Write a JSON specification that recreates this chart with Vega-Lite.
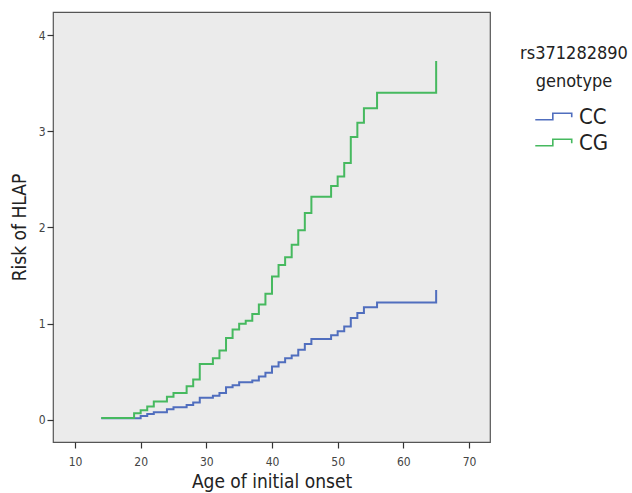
{
  "$schema": "https://vega.github.io/schema/vega-lite/v6.json",
  "autosize": "none",
  "width": 437,
  "height": 430,
  "padding": {"left": 53, "top": 12, "right": 142, "bottom": 51},
  "background": "white",
  "config": {
    "font": "DejaVu Sans Condensed",
    "view": {"fill": "#ebebeb", "stroke": "#555555", "strokeWidth": 1.2},
    "axis": {"grid": false, "domain": false, "tickColor": "#333333", "tickSize": 6, "tickWidth": 1.2,
      "labelFont": "DejaVu Sans Condensed", "labelColor": "#444444", "labelFontSize": 12,
      "titleFont": "DejaVu Sans Condensed", "titleFontWeight": "normal", "titleColor": "#222222", "titleFontSize": 19}
  },
  "data": {"values": [
    {"genotype": "CC", "age": 14, "risk": 0.018},
    {"genotype": "CC", "age": 20, "risk": 0.04},
    {"genotype": "CC", "age": 21, "risk": 0.06},
    {"genotype": "CC", "age": 22, "risk": 0.08},
    {"genotype": "CC", "age": 24, "risk": 0.11},
    {"genotype": "CC", "age": 25, "risk": 0.13},
    {"genotype": "CC", "age": 27, "risk": 0.155},
    {"genotype": "CC", "age": 28, "risk": 0.18},
    {"genotype": "CC", "age": 29, "risk": 0.23},
    {"genotype": "CC", "age": 31, "risk": 0.25},
    {"genotype": "CC", "age": 32, "risk": 0.28},
    {"genotype": "CC", "age": 33, "risk": 0.34},
    {"genotype": "CC", "age": 34, "risk": 0.36},
    {"genotype": "CC", "age": 35, "risk": 0.39},
    {"genotype": "CC", "age": 37, "risk": 0.41},
    {"genotype": "CC", "age": 38, "risk": 0.45},
    {"genotype": "CC", "age": 39, "risk": 0.49},
    {"genotype": "CC", "age": 40, "risk": 0.555},
    {"genotype": "CC", "age": 41, "risk": 0.6},
    {"genotype": "CC", "age": 42, "risk": 0.64},
    {"genotype": "CC", "age": 43, "risk": 0.67},
    {"genotype": "CC", "age": 44, "risk": 0.73},
    {"genotype": "CC", "age": 45, "risk": 0.79},
    {"genotype": "CC", "age": 46, "risk": 0.84},
    {"genotype": "CC", "age": 49, "risk": 0.88},
    {"genotype": "CC", "age": 50, "risk": 0.92},
    {"genotype": "CC", "age": 51, "risk": 0.97},
    {"genotype": "CC", "age": 52, "risk": 1.06},
    {"genotype": "CC", "age": 53, "risk": 1.11},
    {"genotype": "CC", "age": 54, "risk": 1.17},
    {"genotype": "CC", "age": 56, "risk": 1.22},
    {"genotype": "CC", "age": 65, "risk": 1.35},
    {"genotype": "CG", "age": 14, "risk": 0.02},
    {"genotype": "CG", "age": 19, "risk": 0.07},
    {"genotype": "CG", "age": 20, "risk": 0.1},
    {"genotype": "CG", "age": 21, "risk": 0.14},
    {"genotype": "CG", "age": 22, "risk": 0.19},
    {"genotype": "CG", "age": 24, "risk": 0.24},
    {"genotype": "CG", "age": 25, "risk": 0.28},
    {"genotype": "CG", "age": 27, "risk": 0.35},
    {"genotype": "CG", "age": 28, "risk": 0.42},
    {"genotype": "CG", "age": 29, "risk": 0.58},
    {"genotype": "CG", "age": 31, "risk": 0.64},
    {"genotype": "CG", "age": 32, "risk": 0.72},
    {"genotype": "CG", "age": 33, "risk": 0.85},
    {"genotype": "CG", "age": 34, "risk": 0.94},
    {"genotype": "CG", "age": 35, "risk": 1.0},
    {"genotype": "CG", "age": 36, "risk": 1.03},
    {"genotype": "CG", "age": 37, "risk": 1.1},
    {"genotype": "CG", "age": 38, "risk": 1.2},
    {"genotype": "CG", "age": 39, "risk": 1.31},
    {"genotype": "CG", "age": 40, "risk": 1.49},
    {"genotype": "CG", "age": 41, "risk": 1.61},
    {"genotype": "CG", "age": 42, "risk": 1.69},
    {"genotype": "CG", "age": 43, "risk": 1.82},
    {"genotype": "CG", "age": 44, "risk": 1.97},
    {"genotype": "CG", "age": 45, "risk": 2.15},
    {"genotype": "CG", "age": 46, "risk": 2.32},
    {"genotype": "CG", "age": 49, "risk": 2.43},
    {"genotype": "CG", "age": 50, "risk": 2.53},
    {"genotype": "CG", "age": 51, "risk": 2.67},
    {"genotype": "CG", "age": 52, "risk": 2.94},
    {"genotype": "CG", "age": 53, "risk": 3.09},
    {"genotype": "CG", "age": 54, "risk": 3.24},
    {"genotype": "CG", "age": 56, "risk": 3.4},
    {"genotype": "CG", "age": 65, "risk": 3.73}
  ]},
  "mark": {"type": "line", "interpolate": "step-after", "strokeWidth": 2},
  "encoding": {
    "x": {"field": "age", "type": "quantitative", "title": "Age of initial onset",
      "scale": {"domain": [6.65, 73.2], "nice": false, "zero": false},
      "axis": {"values": [10, 20, 30, 40, 50, 60, 70], "labelPadding": 8, "titlePadding": 5}},
    "y": {"field": "risk", "type": "quantitative", "title": "Risk of HLAP",
      "scale": {"domain": [-0.23, 4.24], "nice": false, "zero": false},
      "axis": {"values": [0, 1, 2, 3, 4], "labelPadding": 2, "titlePadding": 9}},
    "color": {"field": "genotype", "type": "nominal",
      "scale": {"domain": ["CC", "CG"], "range": ["#506ebe", "#46b95f"]},
      "legend": {"title": ["rs371282890", "genotype"], "orient": "none", "legendX": 467, "legendY": 33,
        "titleFontSize": 18, "titleFontWeight": "normal", "titleColor": "#222222", "titleAlign": "center", "titleAnchor": "middle",
        "titleFont": "DejaVu Sans Condensed", "titleLineHeight": 28, "titlePadding": 11,
        "labelFontSize": 22, "labelColor": "#222222", "labelFont": "DejaVu Sans Condensed", "labelOffset": 11,
        "symbolType": "M-1.35,0.24L-0.05,0.24L-0.05,-0.24L1.35,-0.24L1.35,0.05", "symbolSize": 729, "symbolStrokeWidth": 1.6, "symbolFillColor": "transparent",
        "rowPadding": 0}}
  }
}
